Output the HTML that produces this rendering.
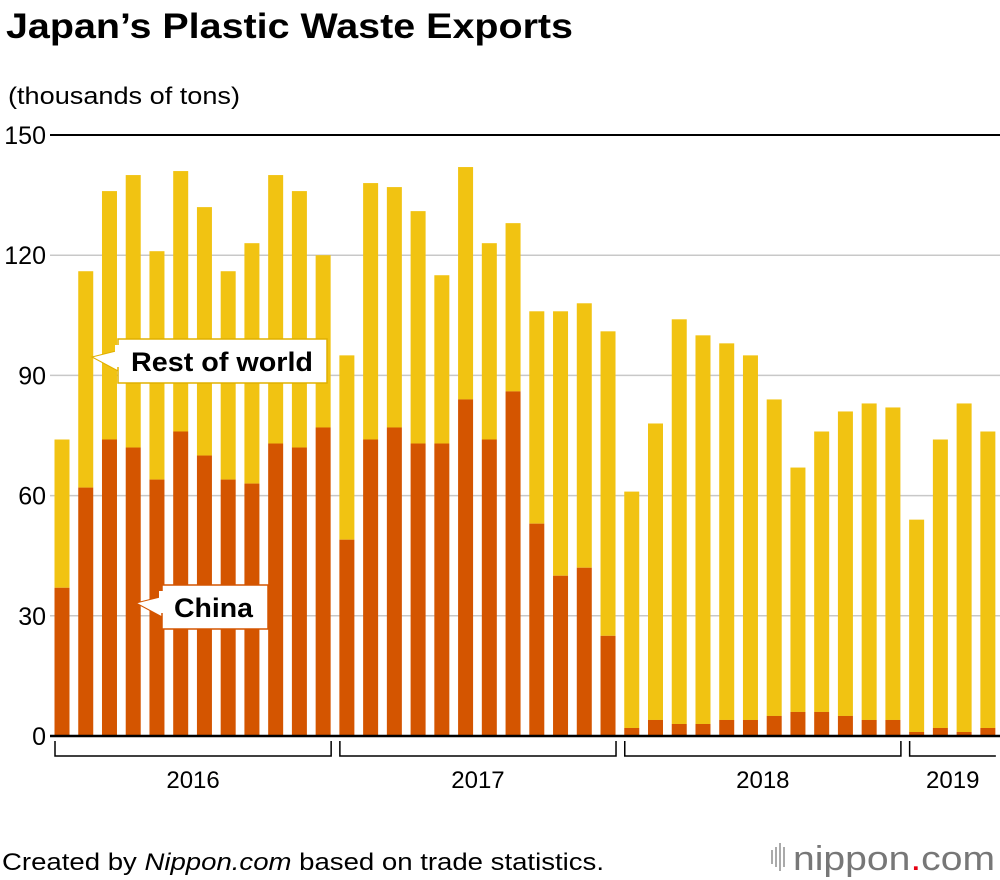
<!DOCTYPE html>
<html><head><meta charset="utf-8"><style>
body{margin:0;background:#fff;font-family:"Liberation Sans",sans-serif}
svg{display:block}
</style></head><body>
<svg id="chart" width="1000" height="880" viewBox="0 0 1000 880" xmlns="http://www.w3.org/2000/svg" font-family="Liberation Sans, sans-serif">
<text x="6" y="38" font-size="35" font-weight="bold" fill="#000" textLength="567" lengthAdjust="spacingAndGlyphs">Japan’s Plastic Waste Exports</text>
<text x="8" y="104" font-size="24" fill="#000" textLength="232" lengthAdjust="spacingAndGlyphs">(thousands of tons)</text>
<g id="grid"></g>
<g id="bars"></g>
<g id="xaxis"></g>
<g>
<polygon points="92,357 120,350 120,372" fill="#fff" stroke="#e0b000" stroke-width="1"/>
<rect x="118" y="339" width="209" height="44" fill="#fff" stroke="#e0b000" stroke-width="1.5"/>
<rect x="115" y="345" width="10" height="22" fill="#fff"/>
<text x="131" y="371" font-size="27" font-weight="bold" fill="#000" textLength="182" lengthAdjust="spacingAndGlyphs">Rest of world</text>
</g>
<g>
<polygon points="136,603 164,596 164,618" fill="#fff" stroke="#d45500" stroke-width="1"/>
<rect x="162" y="585" width="106" height="44" fill="#fff" stroke="#d45500" stroke-width="1.5"/>
<rect x="159" y="591" width="10" height="22" fill="#fff"/>
<text x="174" y="617" font-size="27" font-weight="bold" fill="#000" textLength="79" lengthAdjust="spacingAndGlyphs">China</text>
</g>
<text x="2" y="870" font-size="24" fill="#000" textLength="602" lengthAdjust="spacingAndGlyphs">Created by <tspan font-style="italic">Nippon.com</tspan> based on trade statistics.</text>
<g>
<rect x="771" y="850" width="2" height="14" fill="#aaa"/><rect x="775" y="847" width="2" height="20" fill="#aaa"/><rect x="779" y="843" width="2" height="28" fill="#aaa"/><rect x="783" y="847" width="2" height="20" fill="#aaa"/>
<text x="793" y="870" font-size="34" fill="#777" textLength="202" lengthAdjust="spacingAndGlyphs">nippon<tspan fill="#e60012">.</tspan>com</text>
</g>
</svg>
<script>
const totals=[74,116,136,140,121,141,132,116,123,140,136,120,
95,138,137,131,115,142,123,128,106,106,108,101,
61,78,104,100,98,95,84,67,76,81,83,82,
54,74,83,76];
const china=[37,62,74,72,64,76,70,64,63,73,72,77,
49,74,77,73,73,84,74,86,53,40,42,25,
2,4,3,3,4,4,5,6,6,5,4,4,
1,2,1,2];
const yTicks=[0,30,60,90,120,150];
const years=["2016","2017","2018","2019"];
const yearCounts=[12,12,12,4];
const NS="http://www.w3.org/2000/svg";
const y=v=>736-v*(601/150);
const x=i=>62+i*23.74;
const bw=15;
function mk(t,a,p){const e=document.createElementNS(NS,t);for(const k in a)e.setAttribute(k,a[k]);p.appendChild(e);return e;}
const grid=document.getElementById('grid');
yTicks.forEach(t=>{
  const l=mk('line',{x1:50,x2:1000,y1:y(t),y2:y(t),stroke:t===150?'#000':'#c8c8c8','stroke-width':t===150?2:1.5},grid);
  
  
  const tx=mk('text',{x:46,y:y(t)+9,'font-size':25,'text-anchor':'end',fill:'#000'},grid);
  tx.textContent=t;
  
  
});
const bars=document.getElementById('bars');
totals.forEach((v,i)=>{
  const r=mk('rect',{x:x(i)-bw/2,y:y(v),width:bw,height:y(china[i])-y(v),fill:'#f1c312'},bars);
  
  
  const c=mk('rect',{x:x(i)-bw/2,y:y(china[i]),width:bw,height:y(0)-y(china[i]),fill:'#d45500'},bars);
  
  
});
const xa=document.getElementById('xaxis');
const base=mk('line',{x1:50,x2:1000,y1:736,y2:736,stroke:'#000','stroke-width':2.5},xa);


let start=0;
years.forEach((yr,k)=>{
  const n=yearCounts[k];
  const x0=x(start)-7, x1=Math.min(x(start+n-1)+7+1,999);
  const p=mk('path',{d:`M${x0},741 V756 H${x1}`+(start+n<totals.length?` V741`:''),stroke:'#000','stroke-width':1.5,fill:'none'},xa);
  
  
  const t=mk('text',{x:(x0+x1)/2,y:788,'font-size':24,'text-anchor':'middle',fill:'#000'},xa);
  t.textContent=yr;
  
  
  start+=n;
});
</script>
</body></html>
